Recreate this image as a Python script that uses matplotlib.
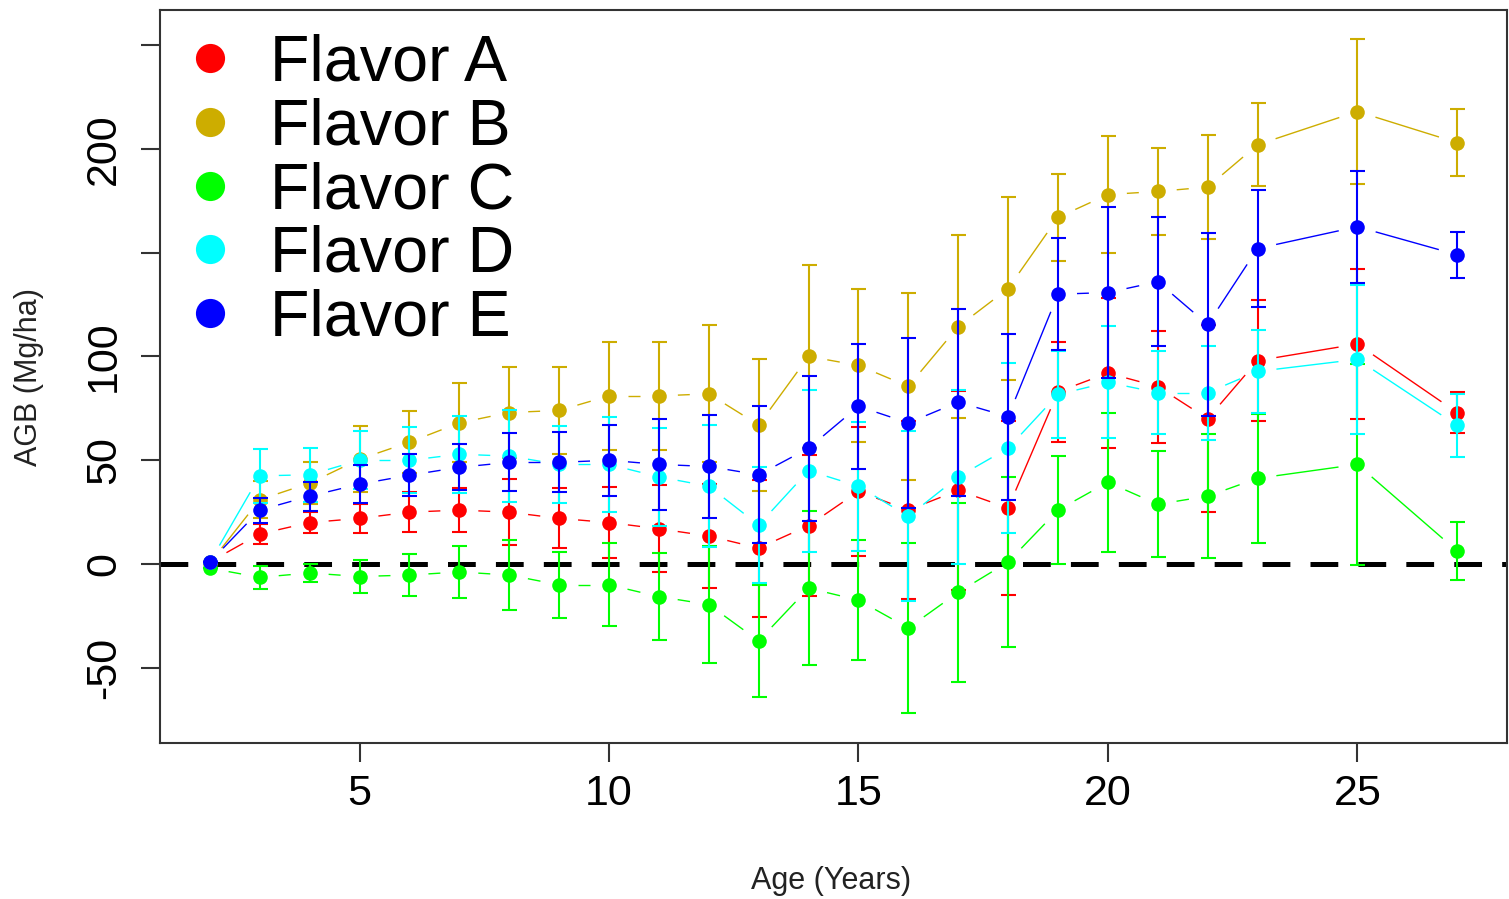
import numpy as np
import matplotlib
matplotlib.use("Agg")
import matplotlib.pyplot as plt
from matplotlib.lines import Line2D

plt.rcParams['font.family'] = ['Liberation Sans', 'DejaVu Sans']
plt.rcParams['lines.scale_dashes'] = False

# ---- data ----
age = [2, 3, 4, 5, 6, 7, 8, 9, 10, 11, 12, 13, 14, 15, 16, 17, 18, 19, 20, 21, 22, 23, 25, 27]

flavor_a = [1, 14.5, 20, 22, 25, 26, 25, 22, 20, 17, 13.5, 7.7, 18.5, 35, 26, 35.5, 27, 83, 92, 85.5, 70, 98, 106, 73]
flavor_a_err = [0, 5, 5, 7, 9.5, 10.5, 16, 14.5, 17, 21, 25, 33, 34, 31, 43, 48, 42, 24, 36, 27, 45, 29, 36, 10]

flavor_b = [0.5, 31, 39, 50.5, 58.7, 68, 73, 74, 81, 81, 82, 67, 100, 95.7, 85.6, 114.4, 132.7, 167, 178, 179.5, 181.6, 202, 218, 203]
flavor_b_err = [0, 9, 10, 16, 15, 19, 22, 21, 26, 26, 33, 32, 44, 37, 45, 44, 44, 21, 28, 21, 25, 20, 35, 16]

flavor_c = [-2, -6.4, -4.3, -6, -5.3, -3.8, -5.3, -10, -10, -15.7, -19.5, -37, -11.6, -17.4, -30.8, -13.6, 1, 26, 39.4, 28.8, 32.7, 41.3, 48, 6.3]
flavor_c_err = [0, 5.5, 4.5, 8, 10, 12.5, 17, 16, 20, 21, 28, 27, 37, 29, 41, 43, 41, 26, 33.6, 25.5, 30, 31, 48.5, 14]

flavor_d = [1, 42.5, 43, 50, 50, 52.9, 52, 48, 48, 42, 37.5, 18.8, 45, 37.5, 23, 42, 55.8, 81.7, 87.5, 82.6, 82.6, 92.8, 98.6, 66.8]
flavor_d_err = [0, 13, 13, 14, 16, 18.5, 22, 18.5, 23, 23.5, 29.5, 28, 39, 31, 41, 42, 41, 21, 27, 20, 22.6, 20, 36, 15]

flavor_e = [1, 26, 32.7, 38.5, 42.8, 46.6, 49, 49, 50, 48, 47, 43, 55.8, 76, 68, 78, 71, 130, 130.8, 136, 115.4, 152, 162.5, 149]
flavor_e_err = [0, 6, 7, 9, 10, 11, 14, 14.5, 17, 22, 25, 33, 35, 30, 41, 45, 40, 27, 41, 31, 44, 28, 27, 11]

labels = ["Flavor A", "Flavor B", "Flavor C", "Flavor D", "Flavor E"]
colors = ["#FF0000", "#CDAD00", "#00FF00", "#00FFFF", "#0000FF"]
means = [flavor_a, flavor_b, flavor_c, flavor_d, flavor_e]
errs = [flavor_a_err, flavor_b_err, flavor_c_err, flavor_d_err, flavor_e_err]

x_ticks = [5, 10, 15, 20, 25]
y_ticks = [-50, 0, 50, 100, 150, 200, 250]
y_tick_labels = ["-50", "0", "50", "100", "", "200", ""]

# ---- figure ----
W, H = 1509, 899
fig = plt.figure(figsize=(W / 100, H / 100), dpi=100)
ax = fig.add_axes([160 / W, 1 - 743 / H, (1507 - 160) / W, (743 - 10) / H])
ax.set_xlim(1, 28)
ax.set_ylim(-86.2, 266.9)

axis_col = "#333333"
for s in ax.spines.values():
    s.set_color(axis_col)
    s.set_linewidth(1.5)

ax.set_xticks(x_ticks)
ax.set_xticklabels([str(t) for t in x_ticks])
ax.set_yticks(y_ticks)
ax.set_yticklabels(y_tick_labels, rotation=90, va='center')
ax.tick_params(axis='both', direction='out', length=14, width=1.5, color=axis_col, labelsize=31)
ax.tick_params(axis='x', pad=8)
ax.tick_params(axis='y', pad=12)

ax.set_xlabel("Age (Years)", fontsize=22, color="#222222")
ax.set_ylabel("AGB (Mg/ha)", fontsize=22, color="#222222")
ax.xaxis.label.set_va('center')
ax.yaxis.label.set_va('center')
ax.xaxis.set_label_coords(0.498, (743 - 881) / 733)
ax.yaxis.set_label_coords((29 - 160) / 1347, 0.5)

# zero reference line
ax.axhline(0, color="black", lw=3.6, dashes=(20, 14.5), zorder=1)


def gapped_line(ax, xs, ys, color, gap_px, lw, z):
    pts = ax.transData.transform(np.column_stack([xs, ys]))
    inv = ax.transData.inverted()
    for p0, p1 in zip(pts[:-1], pts[1:]):
        d = p1 - p0
        L = np.hypot(d[0], d[1])
        if L <= 2 * gap_px:
            continue
        u = d / L
        a = inv.transform(p0 + u * gap_px)
        b = inv.transform(p1 - u * gap_px)
        ax.plot([a[0], b[0]], [a[1], b[1]], color=color, lw=lw, zorder=z,
                solid_capstyle='butt')


for i, (m, e, c) in enumerate(zip(means, errs, colors)):
    z = 3 + i * 3
    gapped_line(ax, age, m, c, 19, 1.0, z)
    ax.errorbar(age, m, yerr=e, fmt='none', ecolor=c, elinewidth=1.5,
                capsize=5.4, capthick=1.5, zorder=z + 1)
    ax.plot(age, m, 'o', color=c, markersize=10.5, markeredgewidth=0, zorder=z + 2)

handles = [Line2D([], [], linestyle='none', marker='o', markersize=21,
                  markeredgewidth=0, color=c) for c in colors]
leg = ax.legend(handles, labels, loc='upper left', bbox_to_anchor=(-6 / 1347, 1.0),
                frameon=False, fontsize=46.5,
                handlelength=1.0, handletextpad=0.42, labelspacing=0.057,
                borderaxespad=0.37, borderpad=0.0, numpoints=1)

fig.savefig("out.png", dpi=100)
